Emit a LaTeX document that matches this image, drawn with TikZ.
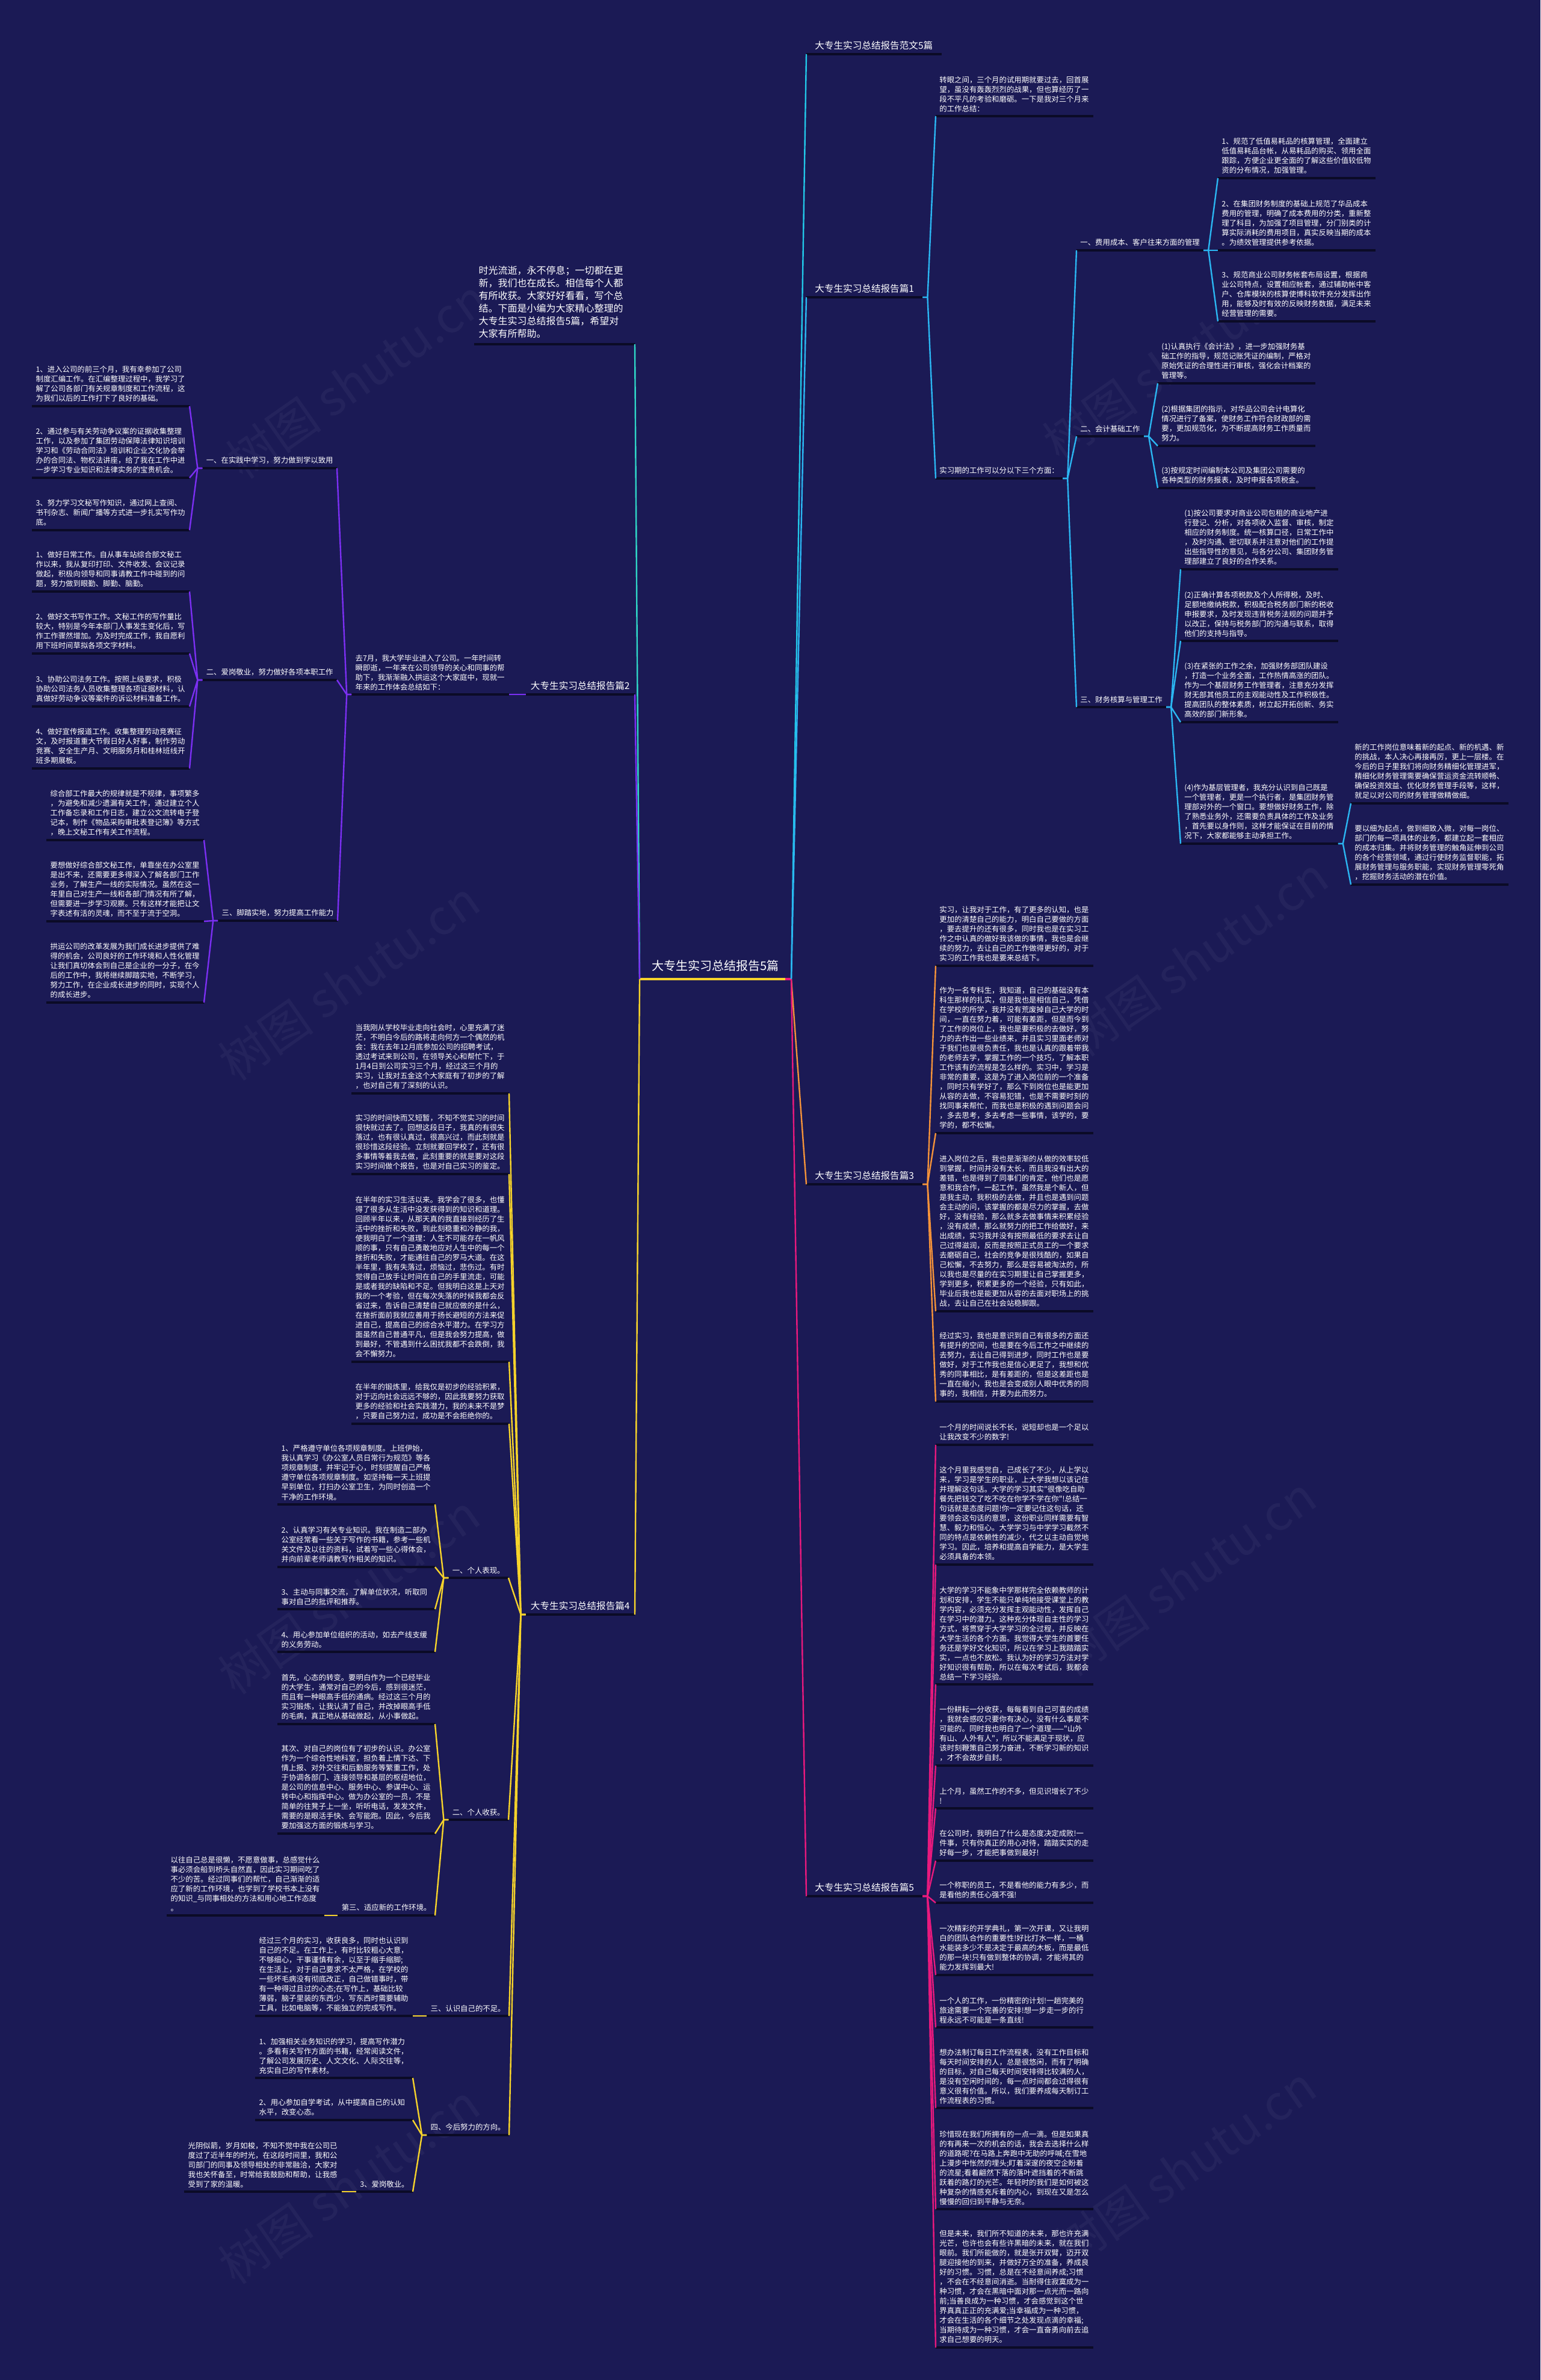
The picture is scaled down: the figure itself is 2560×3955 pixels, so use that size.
\documentclass[tikz,border=0pt]{standalone}
\usepackage{fontspec}
\newfontfamily\cjk{Noto Sans CJK SC}
\definecolor{bg}{HTML}{1B1A55}
\definecolor{cA}{HTML}{22C7E8}
\definecolor{cB}{HTML}{2BB6F2}
\definecolor{cI}{HTML}{2FD6C6}
\definecolor{cP}{HTML}{7B2FF2}
\definecolor{cO}{HTML}{F4923A}
\definecolor{cY}{HTML}{F6D32B}
\definecolor{cM}{HTML}{E8197D}
\definecolor{ulc}{HTML}{0B0B26}
\tikzset{
  uline/.style={draw=ulc, line width=1.6pt},
  base/.style={text=white, align=left, inner ysep=3.3pt,
    append after command={(\tikzlastnode.south west) edge[uline] (\tikzlastnode.south east)}},
  tx/.style={base, font=\cjk\fontsize{6.2pt}{8pt}\selectfont, inner xsep=3pt},
  wide/.style={tx, text width=124.5pt},
  lab/.style={base, font=\cjk\fontsize{7.8pt}{9pt}\selectfont, inner ysep=3.5pt},
  introst/.style={base, font=\cjk\fontsize{8pt}{10.5pt}\selectfont, text width=126pt, inner xsep=3.5pt, inner ysep=5pt},
  con/.style={line width=1.2pt, line join=round},
  wm/.style={font=\cjk\fontsize{40pt}{40pt}\selectfont, text=white, opacity=0.045, rotate=35}
}
\newcommand\myR[4]{\node[wide,anchor=south west] (#1) at (#2,#3) {#4};}
\newcommand\myL[4]{\node[wide,anchor=south east] (#1) at (#2,#3) {#4};}
\newcommand\kidsR[3]{\foreach \k in {#3}{\draw[con,#1] (#2.south east) -- ++(8,0) -- (\k.south west);}}
\newcommand\kidsL[3]{\foreach \k in {#3}{\draw[con,#1] (#2.south west) -- ++(-8,0) -- (\k.south east);}}
\begin{document}
\begin{tikzpicture}[x=0.5pt,y=-0.5pt]
\path[fill=bg] (0,0) rectangle (2560,3955);
\useasboundingbox (0,0) rectangle (2560,3955);
% watermarks
\foreach \p in {(593,630),(1950,600),(580,1630),(1990,1590),(580,2650),(1970,2620),(580,3630),(1970,3600)}
  \node[wm] at \p {树图 shutu.cn};

% centre
\coordinate (cl) at (1063,1627);
\coordinate (cr) at (1315,1627);
\node[font=\cjk\fontsize{10pt}{12pt}\selectfont, text=white, anchor=base, inner sep=0pt] (ctr) at (1189,1612) {大专生实习总结报告5篇};

% branch labels
\node[lab, inner xsep=7pt, anchor=south west] (b0) at (1340,90) {大专生实习总结报告范文5篇};
\node[lab, inner xsep=7pt, anchor=south west] (b1) at (1340,494) {大专生实习总结报告篇1};
\node[lab, inner xsep=7pt, anchor=south west] (b3) at (1340,1968) {大专生实习总结报告篇3};
\node[lab, inner xsep=7pt, anchor=south west] (b5) at (1340,3151) {大专生实习总结报告篇5};
\node[lab, inner xsep=4pt, anchor=south east] (b2) at (1055,1154) {大专生实习总结报告篇2};
\node[lab, inner xsep=4pt, anchor=south east] (b4) at (1055,2683) {大专生实习总结报告篇4};
\node[introst, anchor=south east] (intro) at (1055,572) {时光流逝，永不停息；一切都在更\\新，我们也在成长。相信每个人都\\有所收获。大家好好看看，写个总\\结。下面是小编为大家精心整理的\\大专生实习总结报告5篇，希望对\\大家有所帮助。};

% ---------- branch 1
\myR{b1a}{1555}{193}{转眼之间，三个月的试用期就要过去，回首展\\望，虽没有轰轰烈烈的战果，但也算经历了一\\段不平凡的考验和磨砺。一下是我对三个月来\\的工作总结：}
\node[tx, anchor=south west] (b1b) at (1555,795) {实习期的工作可以分以下三个方面：};
\node[tx, anchor=south west] (b1s1) at (1789,416) {一、费用成本、客户往来方面的管理};
\node[tx, anchor=south west] (b1s2) at (1789,725) {二、会计基础工作};
\node[tx, anchor=south west] (b1s3) at (1789,1175) {三、财务核算与管理工作};
\myR{b1s1a}{2024}{296}{1、规范了低值易耗品的核算管理，全面建立\\低值易耗品台帐，从易耗品的购买、领用全面\\跟踪，方便企业更全面的了解这些价值较低物\\资的分布情况，加强管理。}
\myR{b1s1b}{2024}{416}{2、在集团财务制度的基础上规范了华品成本\\费用的管理，明确了成本费用的分类，重新整\\理了科目，为加强了项目管理，分门别类的计\\算实际消耗的费用项目，真实反映当期的成本\\。为绩效管理提供参考依据。}
\myR{b1s1c}{2024}{534}{3、规范商业公司财务帐套布局设置，根据商\\业公司特点，设置相应帐套，通过辅助帐中客\\户、仓库模块的核算使博科软件充分发挥出作\\用，能够及时有效的反映财务数据，满足未来\\经营管理的需要。}
\myR{b1s2a}{1924}{637}{(1)认真执行《会计法》，进一步加强财务基\\础工作的指导，规范记账凭证的编制，严格对\\原始凭证的合理性进行审核，强化会计档案的\\管理等。}
\myR{b1s2b}{1924}{741}{(2)根据集团的指示，对华品公司会计电算化\\情况进行了备案，使财务工作符合财政部的需\\要，更加规范化，为不断提高财务工作质量而\\努力。}
\myR{b1s2c}{1924}{811}{(3)按规定时间编制本公司及集团公司需要的\\各种类型的财务报表，及时申报各项税金。}
\myR{b1s3a}{1962}{946}{(1)按公司要求对商业公司包租的商业地产进\\行登记、分析，对各项收入监督、审核，制定\\相应的财务制度。统一核算口径，日常工作中\\，及时沟通、密切联系并注意对他们的工作提\\出些指导性的意见，与各分公司、集团财务管\\理部建立了良好的合作关系。}
\myR{b1s3b}{1962}{1065}{(2)正确计算各项税款及个人所得税，及时、\\足额地缴纳税款，积极配合税务部门新的税收\\申报要求，及时发现违背税务法规的问题并予\\以改正，保持与税务部门的沟通与联系，取得\\他们的支持与指导。}
\myR{b1s3c}{1962}{1200}{(3)在紧张的工作之余，加强财务部团队建设\\，打造一个业务全面，工作热情高涨的团队。\\作为一个基层财务工作管理者，注意充分发挥\\财无部其他员工的主观能动性及工作积极性。\\提高团队的整体素质，树立起开拓创新、务实\\高效的部门新形象。}
\myR{b1s3d}{1962}{1402}{(4)作为基层管理者，我充分认识到自己既是\\一个管理者，更是一个执行者，是集团财务管\\理部对外的一个窗口。要想做好财务工作，除\\了熟悉业务外，还需要负责具体的工作及业务\\，首先要以身作则，这样才能保证在目前的情\\况下，大家都能够主动承担工作。}
\myR{b1s3d1}{2245}{1335}{新的工作岗位意味着新的起点、新的机遇、新\\的挑战，本人决心再接再厉，更上一层楼。在\\今后的日子里我们将向财务精细化管理进军，\\精细化财务管理需要确保营运资金流转顺畅、\\确保投资效益、优化财务管理手段等，这样，\\就足以对公司的财务管理做精做细。}
\myR{b1s3d2}{2245}{1470}{要以细为起点，做到细致入微，对每一岗位、\\部门的每一项具体的业务，都建立起一套相应\\的成本归集。并将财务管理的触角延伸到公司\\的各个经营领域，通过行使财务监督职能，拓\\展财务管理与服务职能，实现财务管理零死角\\，挖掘财务活动的潜在价值。}

% ---------- branch 3
\myR{b3a}{1555}{1605}{实习，让我对于工作，有了更多的认知，也是\\更加的清楚自己的能力，明白自己要做的方面\\，要去提升的还有很多，同时我也是在实习工\\作之中认真的做好我该做的事情，我也是会继\\续的努力，去让自己的工作做得更好的，对于\\实习的工作我也是要来总结下。}
\myR{b3b}{1555}{1883}{作为一名专科生，我知道，自己的基础没有本\\科生那样的扎实，但是我也是相信自己，凭借\\在学校的所学，我并没有荒废掉自己大学的时\\间，一直在努力着，可能有差距，但是而今到\\了工作的岗位上，我也是要积极的去做好，努\\力的去作出一些业绩来，并且实习里面老师对\\于我们也是很负责任，我也是认真的跟着带我\\的老师去学，掌握工作的一个技巧，了解本职\\工作该有的流程是怎么样的。实习中，学习是\\非常的重要，这是为了进入岗位前的一个准备\\，同时只有学好了，那么下到岗位也是能更加\\从容的去做，不容易犯错，也是不需要时刻的\\找同事来帮忙，而我也是积极的遇到问题会问\\，多去思考，多去考虑一些事情，该学的，要\\学的，都不松懈。}
\myR{b3c}{1555}{2179}{进入岗位之后，我也是渐渐的从做的效率较低\\到掌握，时间并没有太长，而且我没有出大的\\差错，也是得到了同事们的肯定，他们也是愿\\意和我合作，一起工作，虽然我是个新人，但\\是我主动，我积极的去做，并且也是遇到问题\\会主动的问，该掌握的都是尽力的掌握，去做\\好，没有经验，那么就多去做事情来积累经验\\，没有成绩，那么就努力的把工作给做好，来\\出成绩，实习我并没有按照最低的要求去让自\\己过得滋润，反而是按照正式员工的一个要求\\去磨砺自己，社会的竞争是很残酷的，如果自\\己松懈，不去努力，那么是容易被淘汰的，所\\以我也是尽量的在实习期里让自己掌握更多，\\学到更多，积累更多的一个经验，只有如此，\\毕业后我也是能更加从容的去面对职场上的挑\\战，去让自己在社会站稳脚跟。}
\myR{b3d}{1555}{2329}{经过实习，我也是意识到自己有很多的方面还\\有提升的空间，也是要在今后工作之中继续的\\去努力，去让自己得到进步，同时工作也是要\\做好，对于工作我也是信心更足了，我想和优\\秀的同事相比，是有差距的，但是这差距也是\\一直在缩小，我也是会变成别人眼中优秀的同\\事的，我相信，并要为此而努力。}

% ---------- branch 5
\myR{b5a}{1555}{2401}{一个月的时间说长不长，说短却也是一个足以\\让我改变不少的数字!}
\myR{b5b}{1555}{2600}{这个月里我感觉自，己成长了不少，从上学以\\来，学习是学生的职业，上大学我想以该记住\\并理解这句话。大学的学习其实"很像吃自助\\餐先把钱交了吃不吃在你学不学在你"!总结一\\句话就是态度问题!你一定要记住这句话，还\\要领会这句话的意思，这份职业同样需要有智\\慧、毅力和恒心。大学学习与中学学习截然不\\同的特点是依赖性的减少，代之以主动自觉地\\学习。因此，培养和提高自学能力，是大学生\\必须具备的本领。}
\myR{b5c}{1555}{2799}{大学的学习不能象中学那样完全依赖教师的计\\划和安排，学生不能只单纯地接受课堂上的教\\学内容，必须充分发挥主观能动性，发挥自己\\在学习中的潜力。这种充分体现自主性的学习\\方式，将贯穿于大学学习的全过程，并反映在\\大学生活的各个方面。我觉得大学生的首要任\\务还是学好文化知识，所以在学习上我踏踏实\\实，一点也不放松。我认为好的学习方法对学\\好知识很有帮助，所以在每次考试后，我都会\\总结一下学习经验。}
\myR{b5d}{1555}{2934}{一份耕耘一分收获，每每看到自己可喜的成绩\\，我就会感叹只要你有决心，没有什么事是不\\可能的。同时我也明白了一个道理——"山外\\有山、人外有人"，所以不能满足于现状，应\\该时刻鞭策自己努力奋进，不断学习新的知识\\，才不会故步自封。}
\myR{b5e}{1555}{3005}{上个月，虽然工作的不多，但见识增长了不少\\!}
\myR{b5f}{1555}{3092}{在公司时，我明白了什么是态度决定成败!一\\件事，只有你真正的用心对待，踏踏实实的走\\好每一步，才能把事做到最好!}
\myR{b5g}{1555}{3162}{一个称职的员工，不是看他的能力有多少，而\\是看他的责任心强不强!}
\myR{b5h}{1555}{3282}{一次精彩的开学典礼，第一次开课，又让我明\\白的团队合作的重要性!好比打水一样，一桶\\水能装多少不是决定于最高的木板，而是最低\\的那一块!只有做到整体的协调，才能将其的\\能力发挥到最大!}
\myR{b5i}{1555}{3369}{一个人的工作，一份精密的计划!一趟完美的\\旅途需要一个完善的安排!想一步走一步的行\\程永远不可能是一条直线!}
\myR{b5j}{1555}{3503}{想办法制订每日工作流程表，没有工作目标和\\每天时间安排的人，总是很悠闲，而有了明确\\的目标，对自己每天时间安排得比较满的人，\\是没有空闲时间的，每一点时间都会过得很有\\意义很有价值。所以，我们要养成每天制订工\\作流程表的习惯。}
\myR{b5k}{1555}{3671}{珍惜现在我们所拥有的一点一滴。但是如果真\\的有再来一次的机会的话，我会去选择什么样\\的道路呢?在马路上奔跑中无助的呼喊;在雪地\\上漫步中怅然的埋头;盯着深邃的夜空企盼着\\的流星;看着翩然下落的落叶遮挡着的不断跳\\跃着的路灯的光芒。年轻时的我们是如何被这\\种复杂的情感充斥着的内心，到现在又是怎么\\慢慢的回归到平静与无奈。}
\myR{b5l}{1555}{3901}{但是未来，我们所不知道的未来，那也许充满\\光芒，也许也会有些许黑暗的未来，就在我们\\眼前。我们所能做的，就是张开双臂，迈开双\\腿迎接他的到来，并做好万全的准备，养成良\\好的习惯。习惯，总是在不经意间养成;习惯\\，不会在不经意间消逝。当耐得住寂寞成为一\\种习惯，才会在黑暗中面对那一点光而一路向\\前;当善良成为一种习惯，才会感觉到这个世\\界真真正正的充满爱;当幸福成为一种习惯，\\才会在生活的各个细节之处发现点滴的幸福;\\当期待成为一种习惯，才会一直奋勇向前去追\\求自己想要的明天。}

% ---------- branch 2
\myL{b2i}{846}{1154}{去7月，我大学毕业进入了公司。一年时间转\\瞬即逝，一年来在公司领导的关心和同事的帮\\助下，我渐渐融入拱运这个大家庭中，现就一\\年来的工作体会总结如下：}
\node[tx, anchor=south east] (b2s1) at (560,778) {一、在实践中学习，努力做到学以致用};
\node[tx, anchor=south east] (b2s2) at (560,1130) {二、爱岗敬业，努力做好各项本职工作};
\node[tx, anchor=south east] (b2s3) at (561,1530) {三、脚踏实地，努力提高工作能力};
\myL{b2s1a}{315}{675}{1、进入公司的前三个月，我有幸参加了公司\\制度汇编工作。在汇编整理过程中，我学习了\\解了公司各部门有关规章制度和工作流程，这\\为我们以后的工作打下了良好的基础。}
\myL{b2s1b}{315}{794}{2、通过参与有关劳动争议案的证据收集整理\\工作，以及参加了集团劳动保障法律知识培训\\学习和《劳动合同法》培训和企业文化协会举\\办的合同法、物权法讲座，给了我在工作中进\\一步学习专业知识和法律实务的宝贵机会。}
\myL{b2s1c}{315}{881}{3、努力学习文秘写作知识，通过网上查阅、\\书刊杂志、新闻广播等方式进一步扎实写作功\\底。}
\myL{b2s2a}{315}{983}{1、做好日常工作。自从事车站综合部文秘工\\作以来，我从复印打印、文件收发、会议记录\\做起，积极向领导和同事请教工作中碰到的问\\题，努力做到眼勤、脚勤、脑勤。}
\myL{b2s2b}{315}{1086}{2、做好文书写作工作。文秘工作的写作量比\\较大，特别是今年本部门人事发生变化后，写\\作工作骤然增加。为及时完成工作，我自愿利\\用下班时间草拟各项文字材料。}
\myL{b2s2c}{315}{1174}{3、协助公司法务工作。按照上级要求，积极\\协助公司法务人员收集整理各项证据材料，认\\真做好劳动争议等案件的诉讼材料准备工作。}
\myL{b2s2d}{315}{1277}{4、做好宣传报道工作。收集整理劳动竞赛征\\文，及时报道重大节假日好人好事，制作劳动\\竞赛、安全生产月、文明服务月和桂林班线开\\班多期展板。}
\myL{b2s3a}{339}{1396}{综合部工作最大的规律就是不规律，事项繁多\\，为避免和减少遗漏有关工作，通过建立个人\\工作备忘录和工作日志，建立公文流转电子登\\记本，制作《物品采购审批表登记簿》等方式\\，晚上文秘工作有关工作流程。}
\myL{b2s3b}{339}{1531}{要想做好综合部文秘工作，单靠坐在办公室里\\是出不来，还需要更多得深入了解各部门工作\\业务，了解生产一线的实际情况。虽然在这一\\年里自己对生产一线和各部门情况有所了解，\\但需要进一步学习观察。只有这样才能把让文\\字表述有活的灵魂，而不至于流于空洞。}
\myL{b2s3c}{339}{1666}{拱运公司的改革发展为我们成长进步提供了难\\得的机会，公司良好的工作环境和人性化管理\\让我们真切体会到自己是企业的一分子，在今\\后的工作中，我将继续脚踏实地，不断学习，\\努力工作，在企业成长进步的同时，实现个人\\的成长进步。}

% ---------- branch 4
\myL{b4a1}{846}{1817}{当我刚从学校毕业走向社会时，心里充满了迷\\茫，不明白今后的路将走向何方一个偶然的机\\会：我在去年12月底参加公司的招聘考试，\\透过考试来到公司，在领导关心和帮忙下，于\\1月4日到公司实习三个月，经过这三个月的\\实习，让我对五金这个大家庭有了初步的了解\\，也对自己有了深刻的认识。}
\myL{b4a2}{846}{1951}{实习的时间快而又短暂，不知不觉实习的时间\\很快就过去了。回想这段日子，我真的有很失\\落过，也有很认真过，很高兴过，而此刻就是\\很珍惜这段经验。立刻就要回学校了，还有很\\多事情等着我去做，此刻重要的就是要对这段\\实习时间做个报告，也是对自己实习的鉴定。}
\myL{b4a3}{846}{2263}{在半年的实习生活以来。我学会了很多，也懂\\得了很多从生活中没发获得到的知识和道理。\\回顾半年以来，从那天真的我直接到经历了生\\活中的挫折和失败，到此刻稳重和冷静的我，\\使我明白了一个道理：人生不可能存在一帆风\\顺的事，只有自己勇敢地应对人生中的每一个\\挫折和失败，才能通往自己的罗马大道。在这\\半年里，我有失落过，烦恼过，悲伤过。有时\\觉得自己放手让时间在自己的手里流走，可能\\是或者我的缺陷和不足。但我明白这是上天对\\我的一个考验，但在每次失落的时候我都会反\\省过来，告诉自己清楚自己就应做的是什么，\\在挫折面前我就应善用于扬长避短的方法来促\\进自己，提高自己的综合水平潜力。在学习方\\面虽然自己普通平凡，但是我会努力提高，做\\到最好，不管遇到什么困扰我都不会跌倒，我\\会不懈努力。}
\myL{b4a4}{846}{2366}{在半年的锻炼里，给我仅是初步的经验积累，\\对于迈向社会远远不够的，因此我要努力获取\\更多的经验和社会实践潜力，我的未来不是梦\\，只要自己努力过，成功是不会拒绝你的。}
\node[tx, anchor=south east] (b4s1) at (845,2622) {一、个人表现。};
\node[tx, anchor=south east] (b4s2) at (845,3024) {二、个人收获。};
\node[tx, anchor=south east] (b4s3) at (846,3350) {三、认识自己的不足。};
\node[tx, anchor=south east] (b4s4) at (846,3548) {四、今后努力的方向。};
\myL{b4s1a}{723}{2500}{1、严格遵守单位各项规章制度。上班伊始，\\我认真学习《办公室人员日常行为规范》等各\\项规章制度，并牢记于心，时刻提醒自己严格\\遵守单位各项规章制度。如坚持每一天上班提\\早到单位，打扫办公室卫生，为同时创造一个\\干净的工作环境。}
\myL{b4s1b}{723}{2604}{2、认真学习有关专业知识。我在制造二部办\\公室经常看一些关于写作的书籍，参考一些机\\关文件及以往的资料，试着写一些心得体会，\\并向前辈老师请教写作相关的知识。}
\myL{b4s1c}{723}{2674}{3、主动与同事交流，了解单位状况，听取同\\事对自己的批评和推荐。}
\myL{b4s1d}{723}{2745}{4、用心参加单位组织的活动，如去产线支缓\\的义务劳动。}
\myL{b4s2a}{723}{2865}{首先，心态的转变。要明白作为一个已经毕业\\的大学生，通常对自己的今后，感到很迷茫，\\而且有一种眼高手低的通病。经过这三个月的\\实习锻炼，让我认清了自己，并改掉眼高手低\\的毛病，真正地从基础做起，从小事做起。}
\myL{b4s2b}{723}{3047}{其次、对自己的岗位有了初步的认识。办公室\\作为一个综合性地科室，担负着上情下达、下\\情上报、对外交往和后勤服务等繁重工作，处\\于协调各部门、连接领导和基层的枢纽地位，\\是公司的信息中心、服务中心、参谋中心、运\\转中心和指挥中心。做为办公室的一员，不是\\简单的往凳子上一坐，听听电话，发发文件，\\需要的是眼活手快、会写能跑。因此，今后我\\要加强这方面的锻炼与学习。}
\node[tx, anchor=south east] (b4s2c) at (723,3183) {第三、适应新的工作环境。};
\myL{b4s2c1}{539}{3183}{以往自己总是很懒，不愿意做事，总感觉什么\\事必须会船到桥头自然直，因此实习期间吃了\\不少的苦。经过同事们的帮忙，自己渐渐的适\\应了新的工作环境，也学到了学校书本上没有\\的知识\_与同事相处的方法和用心地工作态度\\。}
\myL{b4s3a}{686}{3350}{经过三个月的实习，收获良多，同时也认识到\\自己的不足。在工作上，有时比较粗心大意，\\不够细心，干事谨慎有余，以至于缩手缩脚;\\在生活上，对于自己要求不太严格，在学校的\\一些坏毛病没有彻底改正，自己做错事时，带\\有一种得过且过的心态;在写作上，基础比较\\薄弱，脑子里装的东西少，写东西时需要辅助\\工具，比如电脑等，不能独立的完成写作。}
\myL{b4s4a}{686}{3453}{1、加强相关业务知识的学习，提高写作潜力\\。多看有关写作方面的书籍，经常阅读文件，\\了解公司发展历史、人文文化、人际交往等，\\充实自己的写作素材。}
\myL{b4s4b}{686}{3523}{2、用心参加自学考试，从中提高自己的认知\\水平，改变心态。}
\node[tx, anchor=south east] (b4s4c) at (686,3642) {3、爱岗敬业。};
\myL{b4s4c1}{568}{3642}{光阴似箭，岁月如梭，不知不觉中我在公司已\\度过了近半年的时光，在这段时间里，我和公\\司部门的同事及领导相处的非常融洽，大家对\\我也关怀备至，时常给我鼓励和帮助，让我感\\受到了家的温暖。}

% ---------- connectors
\draw[line width=1.6pt, cY] (cl) -- (1305,1627);
\draw[line width=1.6pt, cM] (1305,1627) -- (cr);
\draw[con,cA] (cr) -- (b0.south west);
\draw[con,cB] (cr) -- (b1.south west);
\draw[con,cO] (cr) -- (b3.south west);
\draw[con,cM] (cr) -- (b5.south west);
\draw[con,cI] (cl) -- (intro.south east);
\draw[con,cP] (cl) -- (b2.south east);
\draw[con,cY] (cl) -- (b4.south east);

\kidsR{cB}{b1}{b1a,b1b}
\kidsR{cB}{b1b}{b1s1,b1s2,b1s3}
\kidsR{cB}{b1s1}{b1s1a,b1s1b,b1s1c}
\kidsR{cB}{b1s2}{b1s2a,b1s2b,b1s2c}
\kidsR{cB}{b1s3}{b1s3a,b1s3b,b1s3c,b1s3d}
\kidsR{cB}{b1s3d}{b1s3d1,b1s3d2}
\kidsR{cO}{b3}{b3a,b3b,b3c,b3d}
\kidsR{cM}{b5}{b5a,b5b,b5c,b5d,b5e,b5f,b5g,b5h,b5i,b5j,b5k,b5l}

\kidsL{cP}{b2}{b2i}
\kidsL{cP}{b2i}{b2s1,b2s2,b2s3}
\kidsL{cP}{b2s1}{b2s1a,b2s1b,b2s1c}
\kidsL{cP}{b2s2}{b2s2a,b2s2b,b2s2c,b2s2d}
\kidsL{cP}{b2s3}{b2s3a,b2s3b,b2s3c}

\kidsL{cY}{b4}{b4a1,b4a2,b4a3,b4a4,b4s1,b4s2,b4s3,b4s4}
\kidsL{cY}{b4s1}{b4s1a,b4s1b,b4s1c,b4s1d}
\kidsL{cY}{b4s2}{b4s2a,b4s2b,b4s2c}
\kidsL{cY}{b4s2c}{b4s2c1}
\kidsL{cY}{b4s3}{b4s3a}
\kidsL{cY}{b4s4}{b4s4a,b4s4b,b4s4c}
\kidsL{cY}{b4s4c}{b4s4c1}
\end{tikzpicture}
\end{document}
